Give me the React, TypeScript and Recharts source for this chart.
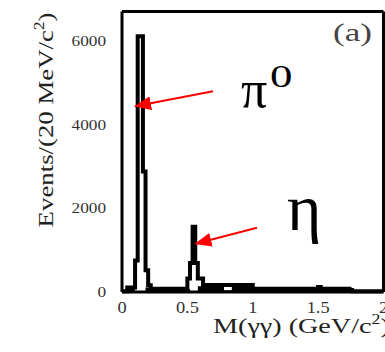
import React from 'react';
import { ComposedChart, Line, Area, XAxis, YAxis, ReferenceLine } from 'recharts';

const SERIF = '"Liberation Serif", "DejaVu Serif", serif';

// Main histogram: lower bin edges (GeV/c^2) and counts per bin (step drawn to next edge)
const mainBinStart = [0, 0.04, 0.10, 0.12, 0.16, 0.18, 0.20, 0.22, 0.50, 0.52, 0.54, 0.56, 0.58, 0.62, 1.00, 1.50, 1.52, 1.74, 1.76, 2.00];
const mainCounts = [20, 110, 750, 6110, 2880, 520, 160, 80, 320, 690, 1560, 690, 320, 170, 75, 120, 75, 50, 15, 15];

// Second (filled) low histogram drawn underneath
const lowBinStart = [0, 0.04, 0.10, 0.18, 0.22, 0.48, 0.52, 0.58, 0.62, 0.78, 0.84, 1.00, 1.74, 2.00];
const lowCounts = [0, 100, 0, 110, 70, 70, 0, 140, 160, 40, 160, 70, 15, 15];

const xTickValues = [0, 0.5, 1, 1.5, 2];
const xTickLabels = ['0', '0.5', '1', '1.5', '2'];
const yMajorTicks = [0, 2000, 4000, 6000];
const yMajorLabels = ['0', '2000', '4000', '6000'];
const yMinorTicks = [1000, 3000, 5000];

// Annotation arrows (data coordinates: start -> tip)
const arrowPi0 = [{ x: 0.696, y: 4796 }, { x: 0.1, y: 4436 }];
const arrowEta = [{ x: 1.032, y: 1535 }, { x: 0.562, y: 1151 }];

const Y_MAX = 6700;

const mainData = mainBinStart.map((x, i) => ({ x, v: mainCounts[i] }));
const lowData = lowBinStart.map((x, i) => ({ x, v: lowCounts[i] }));

const YTick = (p: any) => {
  const idx = yMajorTicks.indexOf(p.payload.value);
  return (
    <g transform={`translate(${p.x},${p.y}) scale(1.15,1)`}>
      <text x={0} y={0} textAnchor="end" dominantBaseline="central" fontFamily={SERIF} fontSize={15} fill="#333">
        {idx >= 0 ? yMajorLabels[idx] : p.payload.value}
      </text>
    </g>
  );
};

const XTick = (p: any) => {
  const idx = xTickValues.indexOf(p.payload.value);
  return (
    <g transform={`translate(${p.x},${p.y}) scale(1.15,1)`}>
      <text x={0} y={0} textAnchor="middle" dominantBaseline="central" fontFamily={SERIF} fontSize={16} fill="#333">
        {idx >= 0 ? xTickLabels[idx] : p.payload.value}
      </text>
    </g>
  );
};

const arrowShape = (p: any) => (
  <line x1={p.x1} y1={p.y1} x2={p.x2} y2={p.y2} stroke="#ff0000" strokeWidth={2} markerEnd="url(#arrowRed)" />
);

export default function App() {
  return (
    <div style={{ position: 'absolute', left: 0, top: 0, width: 385, height: 352, background: '#fff', overflow: 'hidden' }}>
      <svg width={0} height={0} style={{ position: 'absolute' }}>
        <defs>
          <marker id="arrowRed" markerUnits="userSpaceOnUse" markerWidth={18} markerHeight={14} refX={16} refY={7} orient="auto">
            <path d="M0,0 L17,7 L0,14 z" fill="#ff0000" />
          </marker>
        </defs>
      </svg>
      <ComposedChart width={385} height={352} margin={{ top: 10.5, right: 0.5, bottom: 0, left: 0 }}>
        <XAxis
          xAxisId={0}
          type="number"
          dataKey="x"
          domain={[0, 2]}
          ticks={xTickValues}
          interval={0}
          height={60}
          tickLine={false}
          tickSize={0}
          tickMargin={15.5}
          axisLine={{ stroke: '#000', strokeWidth: 3 }}
          tick={<XTick />}
          label={{
            content: () => (
              <g transform="translate(213,333) scale(1.28,1)">
                <text x={0} y={0} textAnchor="start" fontFamily={SERIF} fontSize={22} fill="#222">
                  M(γγ) (GeV/c<tspan dy={-9} fontSize={14}>2</tspan><tspan dy={9}>)</tspan>
                </text>
              </g>
            ),
          }}
        />
        <XAxis
          xAxisId="top"
          orientation="top"
          type="number"
          dataKey="x"
          domain={[0, 2]}
          height={1}
          tick={false}
          tickLine={false}
          axisLine={{ stroke: '#000', strokeWidth: 3 }}
        />
        <YAxis
          yAxisId="y"
          type="number"
          domain={[0, Y_MAX]}
          ticks={yMajorTicks}
          interval={0}
          width={122}
          tickLine={false}
          tickSize={0}
          tickMargin={16}
          axisLine={{ stroke: '#000', strokeWidth: 3 }}
          tick={<YTick />}
          label={{
            content: () => (
              <g transform="translate(53,120) rotate(-90) scale(1.22,1)">
                <text x={0} y={0} textAnchor="middle" fontFamily={SERIF} fontSize={22} fill="#222">
                  Events/(20 MeV/c<tspan dy={-9} fontSize={14}>2</tspan><tspan dy={9}>)</tspan>
                </text>
              </g>
            ),
          }}
        />
        <YAxis
          yAxisId="major"
          type="number"
          domain={[0, Y_MAX]}
          ticks={yMajorTicks}
          interval={0}
          mirror
          width={1}
          tick={false}
          tickSize={8}
          tickLine={{ stroke: '#000', strokeWidth: 2 }}
          axisLine={false}
        />
        <YAxis
          yAxisId="minor"
          type="number"
          domain={[0, Y_MAX]}
          ticks={yMinorTicks}
          interval={0}
          mirror
          width={1}
          tick={false}
          tickSize={4}
          tickLine={{ stroke: '#000', strokeWidth: 2 }}
          axisLine={false}
        />
        <YAxis
          yAxisId="r"
          orientation="right"
          type="number"
          domain={[0, Y_MAX]}
          width={1}
          tick={false}
          tickLine={false}
          axisLine={{ stroke: '#000', strokeWidth: 3 }}
        />
        <Area
          data={lowData}
          dataKey="v"
          xAxisId={0}
          yAxisId="y"
          type="stepAfter"
          stroke="none"
          fill="#000"
          fillOpacity={1}
          dot={false}
          activeDot={false}
          isAnimationActive={false}
        />
        <Line
          data={mainData}
          dataKey="v"
          xAxisId={0}
          yAxisId="y"
          type="stepAfter"
          stroke="#000"
          strokeWidth={4}
          strokeLinejoin="miter"
          dot={false}
          activeDot={false}
          isAnimationActive={false}
        />
        <ReferenceLine xAxisId={0} yAxisId="y" segment={arrowPi0} shape={arrowShape} ifOverflow="visible" />
        <ReferenceLine xAxisId={0} yAxisId="y" segment={arrowEta} shape={arrowShape} ifOverflow="visible" />
      </ComposedChart>
      <svg width={385} height={352} style={{ position: 'absolute', left: 0, top: 0, pointerEvents: 'none' }}>
        <text x={241} y={107} fontFamily={SERIF} fontSize={52} fill="#000">π</text>
        <g transform="translate(270,87) scale(1.45,1)">
          <text x={0} y={0} fontFamily={SERIF} fontSize={31} fill="#000">0</text>
        </g>
        <text x={287} y={230} fontFamily={SERIF} fontSize={66} fill="#000">η</text>
        <g transform="translate(333,41) scale(1.35,1)">
          <text x={0} y={0} fontFamily={SERIF} fontSize={26} fill="#444">(a)</text>
        </g>
      </svg>
    </div>
  );
}
